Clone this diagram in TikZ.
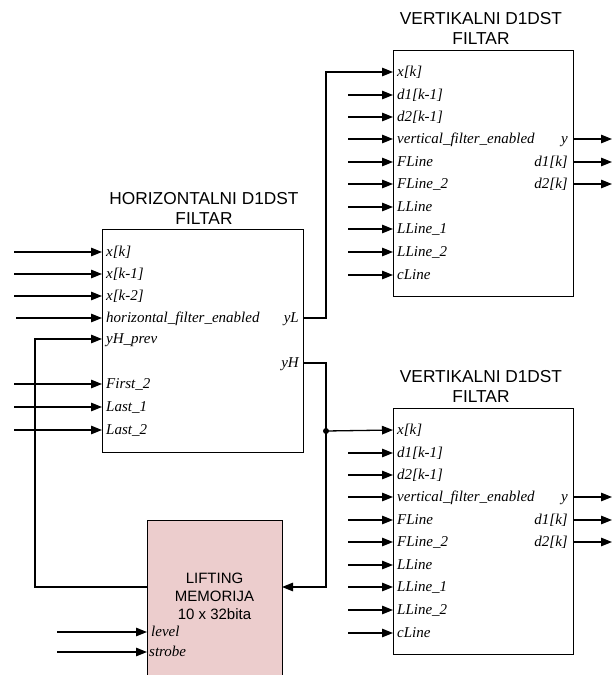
\documentclass[tikz,border=0pt]{standalone}
\usepackage{fontspec}
\setmainfont{Liberation Serif}
\newfontfamily\titlefont{Liberation Sans}
\usetikzlibrary{arrows.meta}
\definecolor{mempink}{RGB}{236,205,205}
\begin{document}
\begin{tikzpicture}[x=1pt,y=-1pt,
  wire/.style={line width=1.3pt},
  arr/.style={wire,-{Triangle[length=11pt,width=8.5pt]}},
  blk/.style={draw,line width=1pt,inner sep=0pt,anchor=north west},
  port/.style={font=\fontsize{15}{16}\selectfont\itshape,inner sep=0pt},
  ttl/.style={font=\titlefont\fontsize{17.3}{20}\selectfont,align=center,inner sep=0pt,anchor=north},
  memtxt/.style={font=\titlefont\fontsize{15}{18}\selectfont,align=center,inner sep=0pt,anchor=north}]
\useasboundingbox (0,0) rectangle (612,675);

% ---------- horizontal filter ----------
\node[blk,minimum width=201pt,minimum height=223pt] (hf) at (102,229) {};
\node[ttl] (hft) at (204,192.5) {HORIZONTALNI D1DST\\FILTAR};
\foreach \n/\yy/\txt in {1/252/{x[k]},2/274/{x[k-1]},3/296/{x[k-2]},4/318/{horizontal\_filter\_enabled},
  5/339/{yH\_prev},6/384/{First\_2},7/407/{Last\_1},8/430/{Last\_2}}{
  \coordinate (hfp\n) at (102,\yy);
  \node[port,anchor=base west] (hfl\n) at (106,\yy+4.5) {\txt};
}
\foreach \n in {1,2,3,6,7,8}{
  \coordinate (hfs\n) at (14,0 |- hfp\n);
  \draw[arr] (hfs\n) -- (hfp\n);
}
\coordinate (hfs4) at (16,0 |- hfp4);
\draw[arr] (hfs4) -- (hfp4);
\coordinate (hfyL) at (303,318);
\coordinate (hfyH) at (303,363);
\node[port,anchor=base east] (hfyLl) at (299,318+4.5) {yL};
\node[port,anchor=base east] (hfyHl) at (299,363+4.5) {yH};

% ---------- vertical filters ----------
\foreach \b/\dy in {a/0,b/358}{
  \node[blk,minimum width=180pt,minimum height=246pt] (vf\b) at (393,50+\dy) {};
  \node[ttl] (vft\b) at (481,12.5+\dy) {VERTIKALNI D1DST\\FILTAR};
  \foreach \n/\yy/\txt in {1/72/{x[k]},2/95/{d1[k-1]},3/117/{d2[k-1]},4/139/{vertical\_filter\_enabled},
    5/162/{FLine},6/184/{FLine\_2},7/207/{LLine},8/229/{LLine\_1},9/252/{LLine\_2},10/275/{cLine}}{
    \coordinate (vf\b p\n) at (393,\yy+\dy);
    \node[port,anchor=base west] (vf\b l\n) at (397,\yy+\dy+4.5) {\txt};
  }
  \foreach \n in {2,...,10}{
    \coordinate (vf\b s\n) at (348,0 |- vf\b p\n);
    \draw[arr] (vf\b s\n) -- (vf\b p\n);
  }
  \foreach \n/\yy/\txt in {1/139/{y},2/162/{d1[k]},3/184/{d2[k]}}{
    \coordinate (vf\b o\n) at (573,\yy+\dy);
    \coordinate (vf\b e\n) at (612,\yy+\dy);
    \node[port,anchor=base east] (vf\b ol\n) at (568,\yy+\dy+4.5) {\txt};
    \draw[arr] (vf\b o\n) -- (vf\b e\n);
  }
}

% ---------- lifting memory ----------
\node[blk,fill=mempink,minimum width=135pt,minimum height=175pt] (mem) at (147,520) {};
\node[memtxt] (memt) at (214.5,573) {LIFTING\\MEMORIJA\\10 x 32bita};
\coordinate (memin) at (282,587);
\coordinate (memout) at (147,587);
\coordinate (meml) at (147,632);
\coordinate (mems) at (147,652);
\node[port,anchor=base west] (memll) at (151,632+4.5) {level};
\node[port,anchor=base west] (memsl) at (149,652+4.5) {strobe};
\coordinate (lvs) at (57,632);
\coordinate (sts) at (57,652);
\draw[arr] (lvs) -- (meml);
\draw[arr] (sts) -- (mems);

% ---------- connections ----------
\coordinate (jL) at (326,318);
\coordinate (jH) at (326,363);
\coordinate (dot) at (326,431);
\draw[arr] (hfyL) -- (jL) |- (vfap1);
\draw[wire] (hfyH) -- (jH) -- (dot);
\draw[arr] (dot) |- (memin);
\draw[arr] (dot) -- (vfbp1);
\fill (dot) circle (3pt);
\coordinate (fb) at (35,587);
\draw[arr] (memout) -- (fb) |- (hfp5);
\end{tikzpicture}
\end{document}
